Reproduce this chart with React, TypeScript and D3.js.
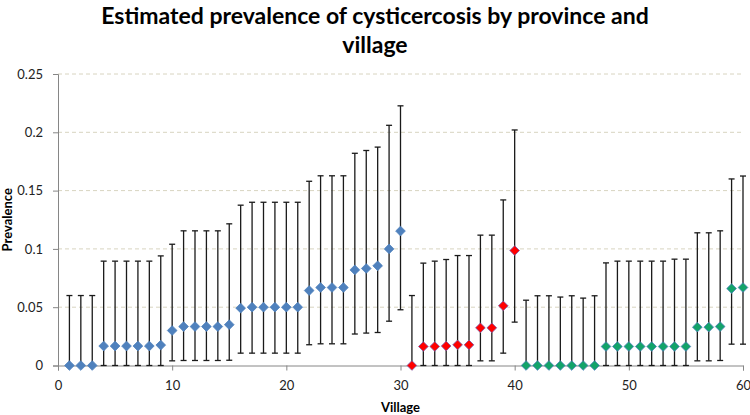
import { useEffect, useRef } from 'react';
import * as d3 from 'd3';

// village index 1..60
const blueVals = [0, 0, 0, 0.0167, 0.0167, 0.0167, 0.0167, 0.0167, 0.0175, 0.030,
  0.0334, 0.0334, 0.0334, 0.0334, 0.035, 0.0492, 0.05, 0.05, 0.05, 0.05,
  0.05, 0.0643, 0.0669, 0.0669, 0.0669, 0.082, 0.0832, 0.0855, 0.100, 0.1153];
const blueLow = [0, 0, 0, 0, 0, 0, 0, 0, 0, 0.004,
  0.0043, 0.0043, 0.0043, 0.0043, 0.0045, 0.0106, 0.0106, 0.0106, 0.0106, 0.0106,
  0.0106, 0.0178, 0.0186, 0.0186, 0.0186, 0.027, 0.0278, 0.0283, 0.038, 0.0478];
const blueHigh = [0.06, 0.06, 0.06, 0.0895, 0.0895, 0.0895, 0.0895, 0.0895, 0.094, 0.104,
  0.1155, 0.1155, 0.1155, 0.1155, 0.1215, 0.1375, 0.14, 0.14, 0.14, 0.14,
  0.14, 0.158, 0.1627, 0.1627, 0.1627, 0.182, 0.1844, 0.1873, 0.206, 0.2227];

const redVals = [0, 0.0163, 0.0163, 0.0167, 0.0177, 0.0177, 0.0323, 0.0323, 0.0512, 0.0986];
const redLow = [0, 0, 0, 0, 0, 0, 0.004, 0.004, 0.0106, 0.0372];
const redHigh = [0.06, 0.0878, 0.0895, 0.0909, 0.0943, 0.0943, 0.1118, 0.1118, 0.142, 0.202];

const greenVals = [0, 0, 0, 0, 0, 0, 0, 0.0163, 0.0163, 0.0163,
  0.0163, 0.0163, 0.0163, 0.0163, 0.0163, 0.0329, 0.0329, 0.0334, 0.066, 0.0669];
const greenLow = [0, 0, 0, 0, 0, 0, 0, 0, 0, 0,
  0, 0, 0, 0, 0, 0.004, 0.004, 0.0043, 0.0183, 0.0183];
const greenHigh = [0.056, 0.0598, 0.0598, 0.0587, 0.0598, 0.0578, 0.0598, 0.088, 0.0895, 0.0895,
  0.0895, 0.0895, 0.0895, 0.0912, 0.0912, 0.1138, 0.1138, 0.1155, 0.16, 0.1625];

const yTicks = [0, 0.05, 0.1, 0.15, 0.2, 0.25];
const xTicks = [0, 10, 20, 30, 40, 50, 60];

interface Pt { v: number; val: number; lo: number; hi: number; fill: string; stroke: string }

const series = [
  { vals: blueVals, low: blueLow, high: blueHigh, start: 1, fill: '#4f81bd', stroke: '#4f81bd' },
  { vals: redVals, low: redLow, high: redHigh, start: 31, fill: '#ff0000', stroke: '#7a5fae' },
  { vals: greenVals, low: greenLow, high: greenHigh, start: 41, fill: '#13a36a', stroke: '#4f81bd' },
];

export default function App() {
  const svgRef = useRef<SVGSVGElement | null>(null);

  useEffect(() => {
    document.body.style.margin = '0';
    if (!svgRef.current) return;
    const svg = d3.select(svgRef.current);
    svg.selectAll('*').remove();

    const width = 750;
    const height = 415;
    const margin = { top: 74, right: 7, bottom: 49.5, left: 58 };
    const font = 'Lato, "Open Sans", sans-serif';

    const x = d3.scaleLinear().domain([0, 60]).range([margin.left, width - margin.right]);
    const y = d3.scaleLinear().domain([0, 0.25]).range([height - margin.bottom, margin.top]);

    const pts: Pt[] = [];
    series.forEach((s) => {
      s.vals.forEach((val, i) => {
        pts.push({ v: s.start + i, val, lo: s.low[i], hi: s.high[i], fill: s.fill, stroke: s.stroke });
      });
    });

    // title
    svg.append('text')
      .attr('x', width / 2).attr('y', 24)
      .attr('text-anchor', 'middle')
      .style('font-family', font).style('font-weight', 'bold').style('font-size', '23px')
      .text('Estimated prevalence of cysticercosis by province and');
    svg.append('text')
      .attr('x', width / 2).attr('y', 53)
      .attr('text-anchor', 'middle')
      .style('font-family', font).style('font-weight', 'bold').style('font-size', '23px')
      .text('village');

    // gridlines
    svg.append('g')
      .selectAll('line')
      .data(yTicks.filter((t) => t > 0))
      .join('line')
      .attr('x1', margin.left).attr('x2', width - margin.right)
      .attr('y1', (d) => y(d)).attr('y2', (d) => y(d))
      .attr('stroke', '#d8d4c0').attr('stroke-width', 1)
      .attr('stroke-dasharray', '4,3');

    // y axis
    const yAxis = svg.append('g')
      .attr('transform', `translate(${margin.left},0)`)
      .call(d3.axisLeft(y).tickValues(yTicks).tickSize(5).tickPadding(10).tickFormat((d) => String(d)));
    yAxis.select('.domain').attr('stroke', '#868686');
    yAxis.selectAll('line').attr('stroke', '#868686');
    yAxis.selectAll('text').style('font-family', font).style('font-size', '13px').attr('fill', '#222');

    // x axis
    const xAxis = svg.append('g')
      .attr('transform', `translate(0,${height - margin.bottom})`)
      .call(d3.axisBottom(x).tickValues(xTicks).tickSize(5).tickPadding(10).tickFormat((d) => String(d)));
    xAxis.select('.domain').attr('stroke', '#868686');
    xAxis.selectAll('line').attr('stroke', '#868686');
    xAxis.selectAll('text').style('font-family', font).style('font-size', '13px').attr('fill', '#222');

    // axis titles
    svg.append('text')
      .attr('x', (margin.left + width - margin.right) / 2).attr('y', 412)
      .attr('text-anchor', 'middle')
      .style('font-family', font).style('font-weight', 'bold').style('font-size', '13px')
      .text('Village');
    svg.append('text')
      .attr('transform', `translate(12,${(margin.top + height - margin.bottom) / 2}) rotate(-90)`)
      .attr('text-anchor', 'middle')
      .style('font-family', font).style('font-weight', 'bold').style('font-size', '13px')
      .text('Prevalence');

    // error bars
    const eb = svg.append('g').attr('stroke', '#1a1a1a').attr('stroke-width', 1.3);
    eb.selectAll('line.v')
      .data(pts)
      .join('line')
      .attr('class', 'v')
      .attr('x1', (d) => x(d.v)).attr('x2', (d) => x(d.v))
      .attr('y1', (d) => y(d.lo)).attr('y2', (d) => y(d.hi));
    eb.selectAll('line.hi')
      .data(pts)
      .join('line')
      .attr('class', 'hi')
      .attr('x1', (d) => x(d.v) - 3).attr('x2', (d) => x(d.v) + 3)
      .attr('y1', (d) => y(d.hi)).attr('y2', (d) => y(d.hi));
    eb.selectAll('line.lo')
      .data(pts)
      .join('line')
      .attr('class', 'lo')
      .attr('x1', (d) => x(d.v) - 3).attr('x2', (d) => x(d.v) + 3)
      .attr('y1', (d) => y(d.lo)).attr('y2', (d) => y(d.lo));

    // markers
    const diamond = d3.symbol().type(d3.symbolDiamond2).size(60);
    svg.append('g')
      .selectAll('path')
      .data(pts)
      .join('path')
      .attr('d', diamond)
      .attr('transform', (d) => `translate(${x(d.v)},${y(d.val)})`)
      .attr('fill', (d) => d.fill)
      .attr('stroke', (d) => d.stroke)
      .attr('stroke-width', 0.8);
  }, []);

  return (
    <div style={{ width: 750, height: 415, background: '#fff' }}>
      <svg ref={svgRef} width={750} height={415} style={{ display: 'block' }} />
    </div>
  );
}
